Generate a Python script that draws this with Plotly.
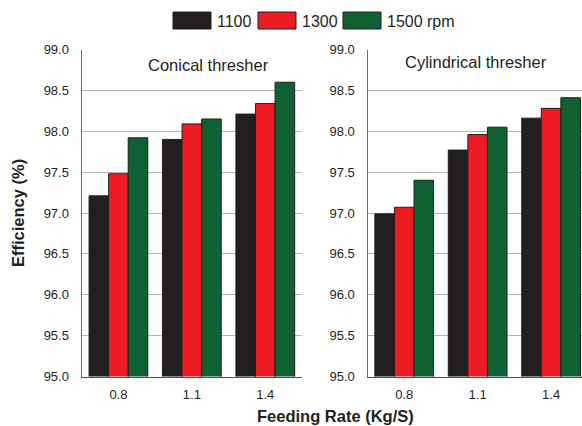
import plotly.graph_objects as go

feed_rates = ["0.8", "1.1", "1.4"]
speeds = ["1100", "1300", "1500 rpm"]
conical = {
    "1100": [97.21, 97.90, 98.21],
    "1300": [97.48, 98.09, 98.34],
    "1500 rpm": [97.92, 98.15, 98.60],
}
cylindrical = {
    "1100": [96.99, 97.77, 98.16],
    "1300": [97.07, 97.96, 98.28],
    "1500 rpm": [97.40, 98.05, 98.41],
}
y_ticks = [95.0, 95.5, 96.0, 96.5, 97.0, 97.5, 98.0, 98.5, 99.0]
grid_vals = [95.5, 96.0, 96.5, 97.0, 97.5, 98.0, 98.5]
colors = {"1100": "#231f20", "1300": "#ed1c24", "1500 rpm": "#0f6132"}

W, H = 582, 426
FONT = "Arial, 'Liberation Sans', sans-serif"
TXT = "#231f20"

fig = go.Figure()
for s in speeds:
    fig.add_trace(go.Bar(x=feed_rates, y=conical[s], name=s, marker_color=colors[s],
                         marker_line=dict(color="#231f20", width=1),
                         xaxis="x", yaxis="y", showlegend=False))
for s in speeds:
    fig.add_trace(go.Bar(x=feed_rates, y=cylindrical[s], name=s, marker_color=colors[s],
                         marker_line=dict(color="#231f20", width=1),
                         xaxis="x2", yaxis="y2", showlegend=False))

ytop = 1 - 49.5 / H
ybot = 1 - 376.5 / H
xl0, xl1 = 81.7 / W, 302 / W
xr0 = 367.5 / W
cat_w = (302 - 81.7) / 3
r_end = -0.5 + (W - 367.5) / cat_w

yax = dict(range=[95, 99], tickvals=y_ticks, ticktext=[f"{v:.1f}" for v in y_ticks],
           showgrid=False, showline=True, linecolor="#6d6d6d", linewidth=1.3,
           ticks="", ticklabelstandoff=9, zeroline=False, automargin=False,
           tickfont=dict(family=FONT, size=13, color=TXT),
           minor=dict(tickvals=grid_vals, showgrid=True, gridcolor="#b3b3b3", gridwidth=1, ticks=""))
xax = dict(type="category", showline=True, linecolor="#4d4d4d", linewidth=1.3, ticks="",
           showgrid=False, automargin=False,
           tickfont=dict(family=FONT, size=13, color=TXT), ticklabelstandoff=6)

fig.update_layout(
    width=W, height=H, margin=dict(l=0, r=0, t=0, b=0, autoexpand=False),
    paper_bgcolor="white", plot_bgcolor="white",
    barmode="group", bargap=0.2, bargroupgap=0,
    xaxis=dict(domain=[xl0, xl1], range=[-0.5, 2.5], anchor="y", **xax),
    yaxis=dict(domain=[ybot, ytop], anchor="x", **yax),
    xaxis2=dict(domain=[xr0, 1.0], range=[-0.5, r_end], anchor="y2", **xax),
    yaxis2=dict(domain=[ybot, ytop], anchor="x2", **yax),
    font=dict(family=FONT, color=TXT),
)

def a(text, x, y, size, xanchor="center", angle=0):
    return dict(text=text, x=x / W, y=1 - y / H, xref="paper", yref="paper",
                xanchor=xanchor, yanchor="middle", showarrow=False, textangle=angle,
                font=dict(size=size, family=FONT, color=TXT))

ann = [
    a("Conical thresher", 208, 65, 16.5),
    a("Cylindrical thresher", 476, 62, 16.5),
    a("<b>Feeding Rate (Kg/S)</b>", 335, 416, 16.5),
    a("<b>Efficiency (%)</b>", 18, 213, 16.5, angle=-90),
]

# legend (boxes + labels)
shapes = []
leg_x = [173, 258, 343]
for s, lx in zip(speeds, leg_x):
    shapes.append(dict(type="rect", xref="paper", yref="paper",
                       x0=lx / W, x1=(lx + 38) / W, y0=1 - 29 / H, y1=1 - 12 / H,
                       fillcolor=colors[s], line=dict(color="#231f20", width=1)))
    ann.append(a(s, lx + 42, 21, 16, xanchor="left"))

fig.update_layout(annotations=ann, shapes=shapes)
fig.write_html("out.html")
